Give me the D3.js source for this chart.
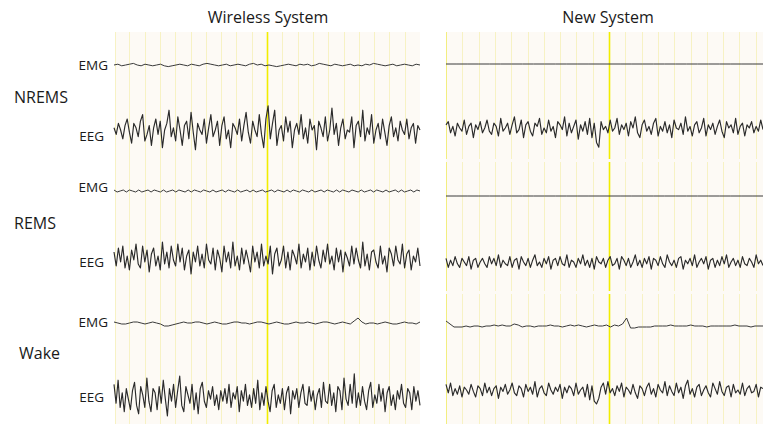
<!DOCTYPE html>
<html>
<head>
<meta charset="utf-8">
<script src="https://cdn.jsdelivr.net/npm/d3@7"></script>
<style>
  body { margin: 0; background: #fff; }
  svg { display: block; font-family: "Open Sans", "Noto Sans", sans-serif; }
</style>
</head>
<body>
<div id="chart"></div>
<script>
// panel / stage / channel labels
const systems = ["Wireless System", "New System"];
const stages = ["NREMS", "REMS", "Wake"];
const channels = ["EMG", "EEG"];
const gridSeconds = [1, 2, 3, 4, 5, 6, 7, 8, 9, 10, 11, 12, 13, 14, 15, 16, 17, 18, 19];

// traces (arbitrary units, up = positive)
const wirelessNremsEmg = [0,1,-1,0,1,2,0,-1,1,0, -1,0,1,-1,-2,-1,0,1,0,-1, 1,0,-1,1,2,1,0,-1,0,1, -1,0,1,0,-1,1,2,0,1,-1,
  0,-1,-2,-1,0,1,0,-1,1,0, 1,-1,0,2,1,0,-1,1,0,-1, 0,1,-1,0,-1,1,0,2,1,0, -1,0,1,-1,0,1,0,-1,1,0];
const wirelessNremsEeg = [1,-2,3,0,-4,2,5,-1,-6,3, 1,-3,4,7,-5,-2,2,-7,1,5, -2,4,-8,0,3,9,-3,1,-5,6, 0,-7,2,4,-4,8,-1,-9,3,0,
  -2,5,-6,1,7,-3,0,4,-7,2, 6,-4,0,-8,3,1,-2,5,-5,2, 8,-1,-6,4,0,-3,7,-2,-8,5, 11,-4,3,9,-7,0,2,-5,6,-1,
  4,-8,0,3,-2,7,-4,1,-6,5, 0,2,-9,4,1,-3,6,-5,0,10, -2,3,-7,1,5,-4,0,-1,6,-8, 2,4,-3,9,-5,1,-2,7,-6,0,
  3,-4,5,-1,-7,2,6,-3,1,-5, 4,0,-2,5,-4,1,3,-6,2,0];
const wirelessRemsEmg = [1,-1,0,1,-1,1,0,-1,1,-1, 0,1,-1,1,0,-1,1,-1,0,1, -1,1,0,-1,1,-1,1,0,-1,1, 0,-1,1,-1,0,1,-1,1,0,-1,
  1,-1,0,1,-1,1,-1,0,1,-1, 0,1,-1,1,0,-1,1,-1,1,0, -1,1,0,-1,1,-1,0,1,-1,1, 0,-1,1,-1,1,0,-1,1,0,-1,
  1,-1,0,1,-1,1,0,-1,1,-1, 0,1,-1,1,-1,0,1,-1,1,0];
const wirelessRemsEeg = [3,-4,5,-2,6,-5,1,-6,4,-1, 7,-3,-5,6,-2,4,-7,2,5,-4, 1,-6,8,-3,3,-5,6,-1,-4,7, -2,5,-6,1,4,-8,3,-2,6,-4,
  2,-5,7,-1,-3,5,-6,4,0,-7, 6,-2,3,-5,8,-4,1,-6,5,-3, 4,-1,-7,6,-2,3,-5,7,-4,1, -3,6,-8,2,5,-4,-1,6,-5,3,
  -6,4,1,-3,7,-5,2,-2,5,-6, 3,-4,6,-1,-5,4,-2,7,-3,1, -6,5,-2,4,-7,3,0,-4,6,-3, 5,-1,-5,8,-4,2,-6,3,4,-2,
  -5,6,-3,1,-7,5,2,-4,6,-1, -3,7,-5,2,4,-6,1,-2,5,-4];
const wirelessWakeEmg = [1,0,-1,-1,0,1,1,0,-1,0, 1,0,-1,-3,-3,-2,-1,0,1,0, 0,1,1,0,-1,0,1,0,-1,-1, 0,1,1,0,0,-1,0,1,1,0,
  -1,0,1,0,-1,-1,0,1,0,0, 1,0,-1,0,1,1,0,-1,0,1, 0,-1,2,5,1,-1,0,0,-1,0, 1,0,-1,-1,0,1,0,0,-1,1];
const wirelessWakeEeg = [6,-3,8,-5,2,-7,4,-1,-6,3, 7,-4,-8,5,1,-5,9,-2,-7,4, 2,-6,5,-3,8,-1,-9,4,-2,6, -5,3,10,-4,-7,5,1,-3,6,-6,
  2,-8,4,7,-2,-5,3,-1,5,-4, 1,-6,3,-2,4,-3,6,-5,2,-1, 5,-7,3,-2,6,-4,1,-5,4,-3, 8,-6,2,-4,5,-2,-7,3,6,-5,
  1,-3,4,-6,2,5,-8,3,-1,4, -5,2,6,-3,-4,5,-2,3,-6,1, 4,-5,7,-2,-3,6,-4,2,-7,5, 3,-6,9,-1,-4,6,-3,11,-5,2,
  -4,5,-2,-6,3,7,-5,1,-3,6, -2,4,-7,2,5,-4,1,-6,3,-1, 6,-3,-5,4,2,-6,5,-2,3,-4];

const newNremsEmg = [0,0,0,0,0,0,0,0,0,0, 0,0,0,0,0,0,0,0,0,0, 0,0,0,0,0,0,0,0,0,0];
const newNremsEeg = [2,4,-3,1,-5,3,0,-2,5,-4, 1,3,-6,2,-1,4,-3,0,5,-2, -4,3,1,-5,6,-2,0,3,-4,2, 7,-3,-1,5,-6,2,4,-2,-5,3,
  1,6,-4,0,-3,5,-2,1,-6,4, 2,-1,7,-5,3,-3,1,5,-7,2, -2,4,-4,6,-6,3,-9,-12,4,-1, 1,-3,5,-2,0,6,-4,2,-1,3,
  -5,4,0,7,-3,-6,2,5,-2,1, -4,3,6,-5,1,-2,4,-3,2,-6, 5,0,-1,3,-4,7,-2,1,-5,2, 4,-3,0,6,-5,2,-1,3,-4,1,
  5,-2,-6,4,0,2,-3,6,-4,1, 3,-5,2,0,4,-3,1,-2,5,-1];
const newRemsEmg = [0,0,0,0,0,0,0,0,0,0, 0,0,0,0,0,0,0,0,0,0, 0,0,0,0,0,0,0,0,0,0];
const newRemsEeg = [2,-3,1,-2,3,-1,-3,2,0,-2, 3,-4,1,2,-3,0,2,-1,-3,3, -1,2,-2,4,-3,1,-1,-2,3,-3, 1,2,-4,3,0,-2,2,-3,1,4,
  -2,0,-3,2,-1,3,-4,1,2,-2, 3,-1,-2,4,-3,1,0,-3,2,-1, 4,-2,1,-3,2,-4,3,0,-1,2, -3,1,3,-2,-1,2,-4,3,1,-2,
  2,-3,0,4,-2,1,-3,2,-1,3, -4,2,1,-2,3,-1,-3,4,0,-2, 1,-3,2,3,-4,1,-1,2,-2,4, -3,0,2,-1,3,-4,1,2,-3,1,
  -2,3,-1,4,-3,0,2,-2,1,-3, 3,-1,-2,2,0,-3,4,-1,1,-2];
const newWakeEmg = [5,2,-1,-1,-1,0,-1,0,0,-1, 0,0,1,0,1,0,0,2,1,-1, 0,0,-1,0,0,0,1,0,0,-1, 0,1,0,1,0,-1,0,1,0,0,
  1,-1,1,0,2,8,-2,-2,-1,-1, -1,-1,0,0,0,0,1,0,0,0, 0,1,0,0,0,-1,0,0,0,0, 0,0,1,0,0,0,-1,0,0,0];
const newWakeEeg = [4,-2,5,-4,1,-3,3,-5,2,0, -3,4,-1,-5,3,1,-4,5,-2,2, -4,1,3,-6,2,-1,4,-3,0,5, -2,-4,3,1,-5,4,-1,2,-3,6,
  -5,1,3,-2,-4,5,0,-3,2,-1, 4,-6,2,-2,3,1,-4,5,-3,0, 2,-5,4,-7,3,-8,-10,-6,2,5, -3,6,-2,1,-4,3,-1,5,-5,2,
  0,-3,4,-2,-6,3,1,-4,2,5, -3,1,-5,4,0,-2,6,-4,3,-1, -4,5,-2,2,-6,3,7,-3,1,-5, 2,4,-4,0,3,-2,-5,5,1,-3,
  6,-1,-4,2,3,-5,4,-2,0,-3, 5,-4,1,3,-2,-1,4,-5,2,1];

const traces = [
  // system, stage, channel, data, baseline y, px per unit
  [0, 0, 0, wirelessNremsEmg, 65, 0.8], [0, 0, 1, wirelessNremsEeg, 130, 2.2],
  [0, 1, 0, wirelessRemsEmg, 191, 1.0], [0, 1, 1, wirelessRemsEeg, 258, 2.0],
  [0, 2, 0, wirelessWakeEmg, 323, 1.0], [0, 2, 1, wirelessWakeEeg, 397, 2.1],
  [1, 0, 0, newNremsEmg, 64, 1], [1, 0, 1, newNremsEeg, 128, 1.6],
  [1, 1, 0, newRemsEmg, 196, 1], [1, 1, 1, newRemsEeg, 262, 1.8],
  [1, 2, 0, newWakeEmg, 326, 1.0], [1, 2, 1, newWakeEeg, 390, 1.4]
];

const width = 763, height = 424;
const svg = d3.select("#chart").append("svg")
  .attr("width", width).attr("height", height);

// one time scale per panel (seconds), visible window differs
const panels = [
  {x: d3.scaleLinear([0, 20], [114, 420]), x0: 115, x1: 420, dur: 20,
   blocks: [[32, 424]]},
  {x: d3.scaleLinear([0, 20], [446, 772]), x0: 446, x1: 763, dur: (763 - 446) / 16.3,
   blocks: [[32, 159], [162, 291], [294, 424]]}
];

panels.forEach((p, si) => {
  const g = svg.append("g");
  g.append("rect")
    .attr("x", p.x0).attr("y", 32)
    .attr("width", p.x1 - p.x0).attr("height", height - 32)
    .attr("fill", "#fdfaf5");
  p.blocks.forEach(b => {
    g.selectAll(null)
      .data([0].concat(gridSeconds).filter(s => p.x(s) <= p.x1))
      .join("line")
      .attr("x1", d => d === 0 ? p.x0 + 0.5 : Math.round(p.x(d)) + 0.5)
      .attr("x2", d => d === 0 ? p.x0 + 0.5 : Math.round(p.x(d)) + 0.5)
      .attr("y1", b[0]).attr("y2", b[1])
      .attr("stroke", d => d === 10 ? "#f2ee00" : (d === 0 && si === 1 ? "#f3ee80" : "#f7f2c4"))
      .attr("stroke-width", d => d === 10 ? 1.6 : 1);
  });

  svg.append("text")
    .attr("x", si === 0 ? 268 : 608).attr("y", 23)
    .attr("text-anchor", "middle")
    .attr("font-size", 16).attr("fill", "#1a1a1a")
    .text(systems[si]);
});

traces.forEach(([si, st, ch, data, base, k]) => {
  const p = panels[si];
  const t = d3.scaleLinear([0, data.length - 1], [0, p.dur]);
  const y = d3.scaleLinear([0, 1], [base, base - k]);
  const line = d3.line()
    .x((d, i) => p.x(t(i)))
    .y(d => y(d))
    .curve(d3.curveLinear);
  svg.append("path")
    .datum(data)
    .attr("d", line)
    .attr("fill", "none")
    .attr("stroke", ch === 0 ? "#3a3a3a" : "#2a2a2a")
    .attr("stroke-width", ch === 0 ? 1.0 : 1.15)
    .attr("stroke-linejoin", "round");
});

// stage labels and channel labels
const stageY = [103, 229, 359];
const stageX = [14, 14, 19];
stages.forEach((s, i) => {
  svg.append("text")
    .attr("x", stageX[i]).attr("y", stageY[i])
    .attr("font-size", 16).attr("fill", "#1a1a1a")
    .text(s);
});
const chanY = [[70, 141], [192, 267], [327, 402]];
chanY.forEach(pair => {
  pair.forEach((yy, ci) => {
    svg.append("text")
      .attr("x", ci === 0 ? 108 : 104).attr("y", yy)
      .attr("text-anchor", "end")
      .attr("font-size", 13.5).attr("fill", "#1a1a1a")
      .text(channels[ci]);
  });
});
</script>
</body>
</html>
